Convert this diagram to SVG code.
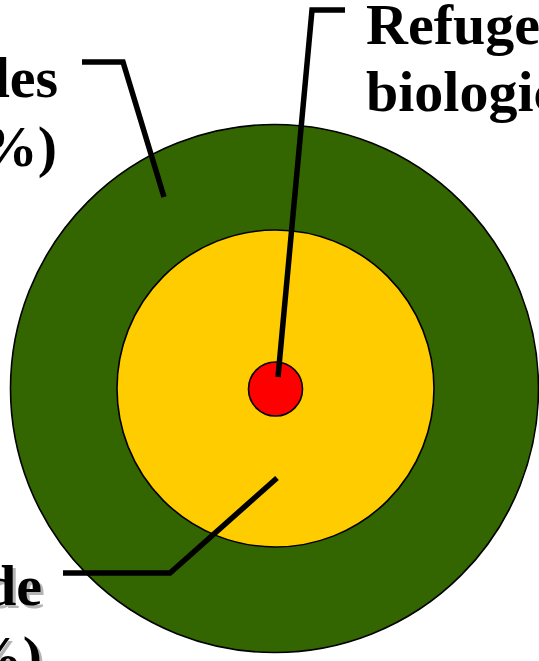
<svg xmlns="http://www.w3.org/2000/svg" width="539" height="661" viewBox="0 0 539 661">
<style>
.ring{stroke:#000;stroke-width:1.6}
.lbl{font-family:"Liberation Serif","Times New Roman",serif;font-weight:bold;font-size:58px;fill:#000}
.shadow{font-family:"Liberation Serif","Times New Roman",serif;font-weight:bold;font-size:58px;fill:#b4b4b4}
.leader{fill:none;stroke:#000;stroke-width:5.5;stroke-linejoin:miter;stroke-linecap:butt}
</style>
<rect width="539" height="661" fill="#fff"/>
<g id="outer-zone">
<circle class="ring" cx="274.5" cy="388.5" r="264" fill="#336600"/>
</g>
<g id="middle-zone">
<circle class="ring" cx="275.5" cy="388.5" r="158.5" fill="#ffcc00"/>
</g>
<g id="core-zone">
<circle class="ring" cx="275.5" cy="389" r="27" fill="#ff0000"/>
</g>
<g id="connectors">
<polyline class="leader" points="82,62 123,62 164,197"/>
<polyline class="leader" points="278,377 312,10 345,10"/>
<polyline class="leader" points="277,478 170,573 63,573"/>
</g>
<g id="label-left">
<text class="lbl" x="58" y="97" text-anchor="end">des</text>
<text class="lbl" x="57" y="166" text-anchor="end">%)</text>
</g>
<g id="label-top">
<text class="lbl" x="366" y="44">Refuge</text>
<text class="lbl" x="366" y="111">biologic</text>
</g>
<g id="label-bottom">
<text class="shadow" x="45" y="608" text-anchor="end">de</text>
<text class="lbl" x="42" y="605" text-anchor="end">de</text>
<text class="shadow" x="45" y="679" text-anchor="end">%)</text>
<text class="lbl" x="42" y="676" text-anchor="end">%)</text>
</g>
</svg>
